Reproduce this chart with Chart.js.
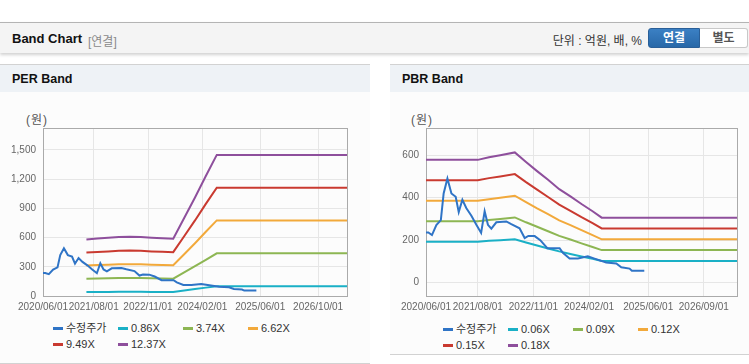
<!DOCTYPE html>
<html><head><meta charset="utf-8">
<script src="https://cdn.jsdelivr.net/npm/chart.js@4.4.1/dist/chart.umd.min.js"></script>
<style>
html,body{margin:0;padding:0;background:#fff;}
body{width:749px;height:364px;position:relative;overflow:hidden;font-family:"Liberation Sans",Arial,"Noto Sans CJK KR",sans-serif;}
#hdr{position:absolute;left:0;top:22px;width:749px;height:30px;background:#f4f4f4;border-top:1px solid #b4b4b4;box-shadow:0 2px 3px rgba(0,0,0,0.18);}
#hdr .t{position:absolute;left:12px;top:8px;font-size:13px;font-weight:bold;color:#111;}
#hdr .s{position:absolute;left:88px;top:9px;font-size:12px;color:#8a8a8a;}
#hdr .u{position:absolute;right:107px;top:8px;font-size:12px;color:#333;}
#b1{position:absolute;left:648px;top:5px;width:52px;background:linear-gradient(#3b80c4,#2868a8);border:1px solid #2a5f98;border-radius:3px 0 0 3px;color:#fff;font-size:12px;font-weight:bold;text-align:center;line-height:18px;box-sizing:border-box;height:20px;}
#b2{position:absolute;left:700px;top:5px;width:48px;height:20px;background:#fff;border:1px solid #c8c8c8;border-left:none;border-radius:0 3px 3px 0;color:#555;font-size:12px;font-weight:bold;text-align:center;line-height:18px;box-sizing:border-box;}
.panel{position:absolute;top:64px;border-top:1px solid #d2d2d2;border-bottom:1px solid #d2d2d2;background:#fcfcfc;}
.panel .ph{height:27px;background:#eef2f6;font-size:12.5px;font-weight:bold;color:#111;line-height:29px;padding-left:12px;}
.unit{position:absolute;top:110px;font-size:12px;color:#555;letter-spacing:1px;}
canvas{position:absolute;}
.lg{position:absolute;font-size:11px;color:#333;white-space:nowrap;line-height:13px;}
.lg i{display:inline-block;width:10px;height:3px;vertical-align:middle;margin-right:3px;margin-top:-2px;}
</style></head>
<body>
<div id="hdr"><span class="t">Band Chart</span><span class="s">[연결]</span><span class="u">단위 : 억원, 배, %</span><div id="b1">연결</div><div id="b2">별도</div></div>
<div class="panel" style="left:0;width:370px;height:298px;"><div class="ph">PER Band</div></div>
<div class="panel" style="left:390px;width:359px;height:289px;"><div class="ph">PBR Band</div></div>
<div class="unit" style="left:26px;">(원)</div>
<div class="unit" style="left:411px;">(원)</div>
<canvas id="per" width="370" height="220" style="left:0;top:100px;"></canvas>
<canvas id="pbr" width="359" height="220" style="left:390px;top:100px;"></canvas>
<div id="lgper"></div><div id="lgpbr"></div>
<script>
// ---- data ----
const xStart = '2020/06/01';
const xEnd = '2027/06/01';

const priceDates = ['2020/06/01','2020/06/20','2020/07/20','2020/08/25','2020/10/01','2020/10/24','2020/11/24','2020/12/27','2021/01/31','2021/02/25','2021/03/27','2021/04/29','2021/06/09','2021/07/20','2021/08/28','2021/09/26','2021/10/23','2021/11/20','2021/12/31','2022/03/23','2022/05/03','2022/07/10','2022/08/21','2022/09/20','2022/11/11','2022/12/27','2023/02/23','2023/06/04','2023/07/01','2023/08/25','2023/11/01','2024/01/22','2024/03/17','2024/06/21','2024/09/12','2024/10/23','2024/12/30','2025/01/18','2025/04/30'];
const priceValues = [236,236,224,271,294,420,490,420,404,332,390,350,315,272,234,336,272,254,284,288,275,256,210,220,219,200,162,162,140,114,114,124,113,95,90,72,66,56,56];

const perBandDates = ['2021/06/01','2021/09/01','2021/12/01','2022/03/01','2022/06/01','2022/09/01','2022/12/01','2023/03/01','2023/06/01','2023/09/01','2023/12/01','2024/03/01','2024/06/01','2027/06/01'];
const per086 = [42,42,42,43,43,43,42,42,42,56,71,86,101,101];
const per374 = [178,180,182,184,186,184,182,180,178,242,306,372,438,438];
const per662 = [314,318,322,326,327,325,321,318,316,428,542,660,776,776];
const per949 = [446,452,458,464,467,464,458,454,450,614,776,946,1112,1112];
const per1237 = [581,590,598,605,608,605,598,592,588,800,1012,1232,1449,1449];

const pbrBandDates = ['2020/06/01','2021/08/01','2021/11/01','2022/02/01','2022/06/01','2022/09/01','2022/12/01','2023/03/01','2023/06/01','2023/09/01','2023/12/01','2024/03/01','2024/05/15','2027/06/01'];
const pbr006 = [193,193,197,200,204,189,175,161,147,135,123,112,102,102];
const pbr009 = [289,289,295,300,307,284,263,242,220,203,185,168,153,153];
const pbr012 = [385,385,393,400,409,379,350,323,293,271,247,224,204,204];
const pbr015 = [482,482,492,500,511,473,438,403,367,338,308,280,255,255];
const pbr018 = [578,578,590,600,613,568,525,484,440,406,370,336,306,306];

const perLabels = ['수정주가','0.86X','3.74X','6.62X','9.49X','12.37X'];
const pbrLabels = ['수정주가','0.06X','0.09X','0.12X','0.15X','0.18X'];
const perXTicks = ['2020/06/01','2021/08/01','2022/11/01','2024/02/01','2025/06/01','2026/10/01'];
const pbrXTicks = ['2020/06/01','2021/08/01','2022/11/01','2024/02/01','2025/06/01','2026/09/01'];
const perYTicks = [0,300,600,900,1200,1500];
const pbrYTicks = [0,200,400,600];

// ---- helpers ----
const colors = ['#2f74c6','#1ab0c6','#8db653','#f2a93b','#c93a30','#8e4f9c'];
function toDay(s){const p=s.split('/').map(Number);const b=xStart.split('/').map(Number);return (Date.UTC(p[0],p[1]-1,p[2])-Date.UTC(b[0],b[1]-1,b[2]))/86400000;}
function pts(dates,vals){return dates.map((d,i)=>({x:toDay(d),y:vals[i]}));}
const borderPlugin={id:'frame',beforeDatasetsDraw(c){const a=c.chartArea,ctx=c.ctx;ctx.save();ctx.strokeStyle='#aaaaaa';ctx.lineWidth=1;ctx.strokeRect(Math.round(a.left)+0.5,Math.round(a.top)+0.5,Math.round(a.right-a.left),Math.round(a.bottom-a.top));ctx.restore();}};

function makeChart(id,series,labels,xTicks,yTicks,yMin,yMax,yWidth,padRight){
  const tickMap={};xTicks.forEach(t=>tickMap[toDay(t)]=t);
  return new Chart(document.getElementById(id),{
    type:'line',
    data:{datasets:series.map((s,i)=>({label:labels[i],data:s,borderColor:colors[i],backgroundColor:colors[i],borderWidth:2,pointRadius:0,tension:0,fill:false}))},
    options:{responsive:false,animation:false,events:[],
      layout:{padding:{left:0,right:padRight,top:28,bottom:0}},
      plugins:{legend:{display:false},tooltip:{enabled:false}},
      scales:{
        x:{type:'linear',min:0,max:toDay(xEnd),
          afterBuildTicks:s=>{s.ticks=xTicks.map(t=>({value:toDay(t)}));},
          afterFit:s=>{s.height=24;},
          ticks:{autoSkip:false,maxRotation:0,padding:5,color:'#666',font:{family:'"Liberation Sans",Arial',size:10},callback:v=>tickMap[v]||''},
          grid:{color:'#e6e6e6',drawTicks:false},border:{display:false}},
        y:{type:'linear',min:yMin,max:yMax,
          afterBuildTicks:s=>{s.ticks=yTicks.map(v=>({value:v}));},
          afterFit:s=>{s.width=yWidth;},
          ticks:{padding:7,color:'#666',font:{family:'"Liberation Sans",Arial',size:10},callback:v=>v.toLocaleString('en-US')},
          grid:{color:'#e6e6e6',drawTicks:false},border:{display:false}}
      }},
    plugins:[borderPlugin]
  });
}

makeChart('per',[pts(priceDates,priceValues),pts(perBandDates,per086),pts(perBandDates,per374),pts(perBandDates,per662),pts(perBandDates,per949),pts(perBandDates,per1237)],perLabels,perXTicks,perYTicks,0,1725,43,23);
makeChart('pbr',[pts(priceDates,priceValues),pts(pbrBandDates,pbr006),pts(pbrBandDates,pbr009),pts(pbrBandDates,pbr012),pts(pbrBandDates,pbr015),pts(pbrBandDates,pbr018)],pbrLabels,pbrXTicks,pbrYTicks,-63,728,36,12);

function legend(id,labels,x0,y0){
  const el=document.getElementById(id);
  labels.forEach((l,i)=>{const d=document.createElement('div');d.className='lg';
    d.style.left=(x0+(i%4)*65)+'px';d.style.top=(y0+Math.floor(i/4)*16)+'px';
    d.innerHTML='<i style="background:'+colors[i]+'"></i>'+l;el.appendChild(d);});
}
legend('lgper',perLabels,53,322);
legend('lgpbr',pbrLabels,443,323);
</script>
</body></html>
